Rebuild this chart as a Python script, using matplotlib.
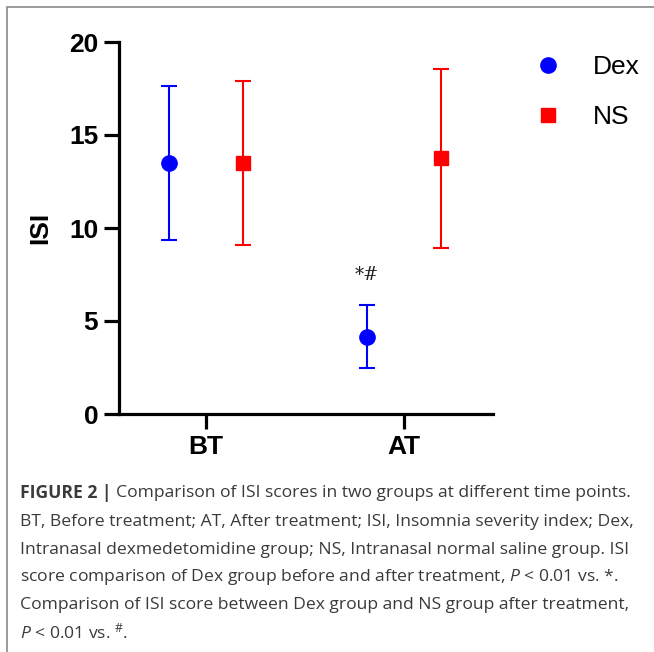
import numpy as np
import matplotlib
matplotlib.use("Agg")
import matplotlib.pyplot as plt
from matplotlib.lines import Line2D
from matplotlib.patches import Rectangle

plt.rcParams['font.family'] = ['Liberation Sans', 'DejaVu Sans']
plt.rcParams['mathtext.fontset'] = 'custom'
plt.rcParams['mathtext.it'] = 'Open Sans:italic'
plt.rcParams['mathtext.rm'] = 'Open Sans'

# data
times = ['BT', 'AT']
dex_mean = [13.5, 4.15]
dex_err = [4.15, 1.69]
ns_mean = [13.5, 13.75]
ns_err = [4.4, 4.8]
yticks = [0, 5, 10, 15, 20]

fig = plt.figure(figsize=(6.54, 6.52), dpi=100)
ax = fig.add_axes([119/654, 1-414/652, (493-119)/654, (414-42)/652])

x = np.arange(len(times))
off = 0.187
ax.errorbar(x - off, dex_mean, yerr=dex_err, fmt='o', color='#0000ff', ms=11,
            elinewidth=1.5, capsize=5.5, capthick=1.5, clip_on=False)
ax.errorbar(x + off, ns_mean, yerr=ns_err, fmt='s', color='#ff0000', ms=10.5,
            elinewidth=1.5, capsize=5.5, capthick=1.5, clip_on=False)
ax.text(x[1] - off, 7.5, '*#', ha='center', va='center', fontsize=13,
        family='DejaVu Serif', color='#222222')

ax.set_xlim(-0.44, 1.45)
ax.set_ylim(0, 20)
ax.set_xticks(x)
ax.set_xticklabels(times)
ax.set_yticks(yticks)
for s in ['top', 'right']:
    ax.spines[s].set_visible(False)
for s in ['left', 'bottom']:
    ax.spines[s].set_linewidth(2.3)
ax.tick_params(width=2.3, length=11, labelsize=19, pad=4)
for lab in ax.get_xticklabels() + ax.get_yticklabels():
    lab.set_fontweight('bold')
ax.set_ylabel('ISI', fontsize=19, fontweight='bold', labelpad=12)

handles = [Line2D([], [], marker='o', ls='', color='#0000ff', ms=11),
           Line2D([], [], marker='s', ls='', color='#ff0000', ms=10.5)]
fig.legend(handles, ['Dex', 'NS'], loc='upper left', bbox_to_anchor=(537/654, 1-55/652),
           frameon=False, fontsize=19, handlelength=0.8, handletextpad=1.3,
           labelspacing=0.98, borderaxespad=0, borderpad=0)

# grey frame
fig.add_artist(Rectangle((7/654, -0.1), 1.2, 1-7/652+0.1, transform=fig.transFigure,
                         fill=False, ec='#8a8a8a', lw=1.2))

# caption
fs = 12.6
col = '#3a3a3a'
cfam = ['Open Sans', 'DejaVu Sans']
x0 = 20/654
lines = [
    'Comparison of ISI scores in two groups at different time points.',
    'BT, Before treatment; AT, After treatment; ISI, Insomnia severity index; Dex,',
    'Intranasal dexmedetomidine group; NS, Intranasal normal saline group. ISI',
    r'score comparison of Dex group before and after treatment, $\it{P}$ < 0.01 vs. *.',
    'Comparison of ISI score between Dex group and NS group after treatment,',
    r'$\it{P}$ < 0.01 vs. $^{\#}$.',
]
ys = [493, 522, 550, 577, 605, 632]
t0 = fig.text(x0, 1-ys[0]/652, 'FIGURE 2 | ', fontsize=fs, fontweight='bold',
              color=col, va='center', family=cfam)
fig.canvas.draw()
bb = t0.get_window_extent()
fig.text(bb.x1/654, 1-ys[0]/652, lines[0], fontsize=fs, color=col, va='center', family=cfam)
for ln, yy in zip(lines[1:], ys[1:]):
    fig.text(x0, 1-yy/652, ln, fontsize=fs, color=col, va='center', family=cfam)

fig.savefig('out.png', dpi=100)
